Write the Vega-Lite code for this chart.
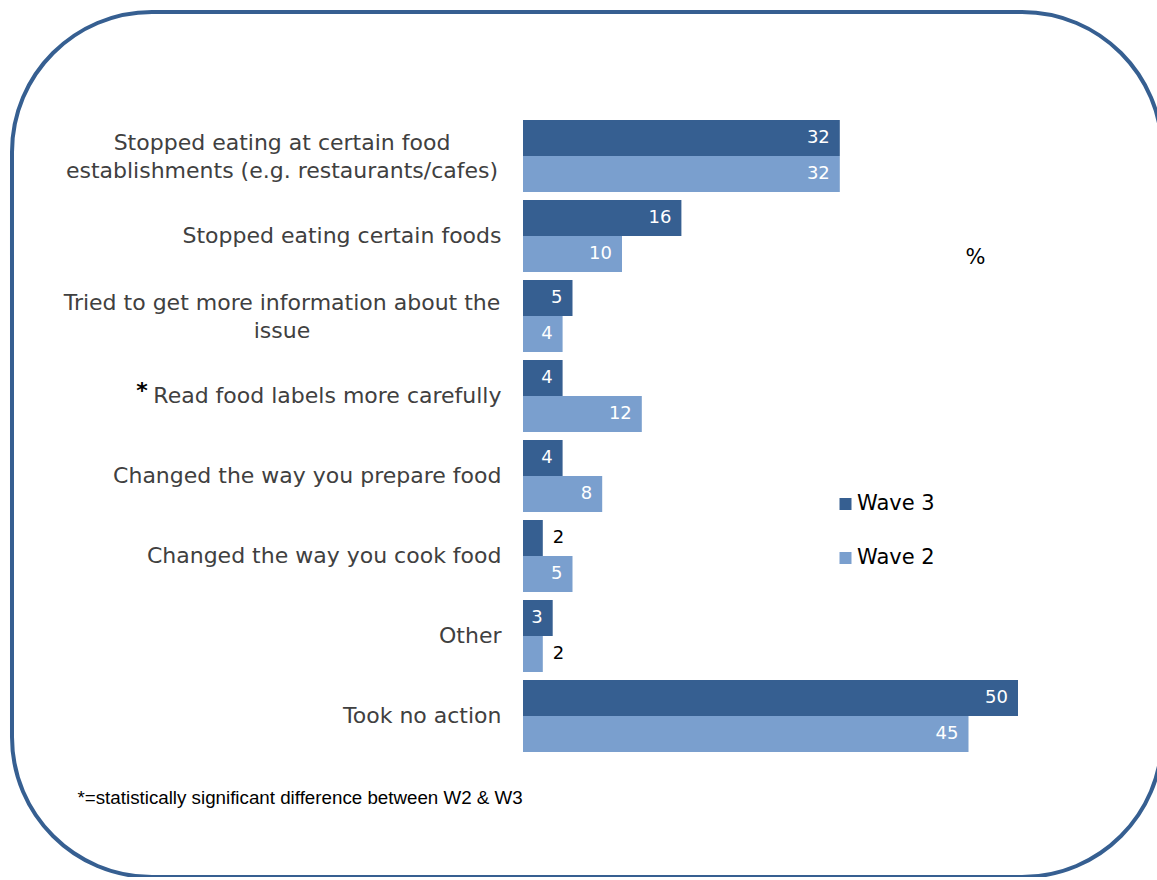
{
  "$schema": "https://vega.github.io/schema/vega-lite/v6.json",
  "width": 1150,
  "height": 865,
  "autosize": {"type": "none"},
  "padding": {"left": 12, "top": 12, "right": 0, "bottom": 0},
  "background": "white",
  "config": {
    "view": {"stroke": "#365F91", "strokeWidth": 4, "cornerRadius": 140},
    "font": "DejaVu Sans"
  },
  "datasets": {
    "bars": [
      {"category": "Stopped eating at certain food|establishments (e.g. restaurants/cafes)", "wave": "Wave 3", "value": 32},
      {"category": "Stopped eating at certain food|establishments (e.g. restaurants/cafes)", "wave": "Wave 2", "value": 32},
      {"category": "Stopped eating certain foods", "wave": "Wave 3", "value": 16},
      {"category": "Stopped eating certain foods", "wave": "Wave 2", "value": 10},
      {"category": "Tried to get more information about the|issue", "wave": "Wave 3", "value": 5},
      {"category": "Tried to get more information about the|issue", "wave": "Wave 2", "value": 4},
      {"category": "Read food labels more carefully", "wave": "Wave 3", "value": 4},
      {"category": "Read food labels more carefully", "wave": "Wave 2", "value": 12},
      {"category": "Changed the way you prepare food", "wave": "Wave 3", "value": 4},
      {"category": "Changed the way you prepare food", "wave": "Wave 2", "value": 8},
      {"category": "Changed the way you cook food", "wave": "Wave 3", "value": 2},
      {"category": "Changed the way you cook food", "wave": "Wave 2", "value": 5},
      {"category": "Other", "wave": "Wave 3", "value": 3},
      {"category": "Other", "wave": "Wave 2", "value": 2},
      {"category": "Took no action", "wave": "Wave 3", "value": 50},
      {"category": "Took no action", "wave": "Wave 2", "value": 45}
    ],
    "notes": [
      {"category": "Read food labels more carefully", "note": "*"}
    ]
  },
  "layer": [
    {
      "data": {"name": "bars"},
      "mark": {"type": "bar"},
      "encoding": {
        "y": {
          "field": "category", "type": "nominal", "sort": null,
          "scale": {"type": "band", "range": [108, 740], "paddingInner": 0.1, "paddingOuter": 0},
          "axis": {
            "orient": "left", "offset": -511, "domain": false, "ticks": false, "tickSize": 0, "grid": false,
            "labelExpr": "split(datum.label, '|')",
            "labelFont": "DejaVu Sans", "labelFontSize": 22, "labelColor": "#404040",
            "labelLimit": 700, "labelOverlap": false, "labelLineHeight": 28, "labelBaseline": "middle",
            "labelAlign": {"condition": {"test": "indexof(datum.value, '|') >= 0", "value": "center"}, "value": "right"},
            "labelPadding": {"condition": {"test": "indexof(datum.value, '|') >= 0", "value": 241.5}, "value": 22},
            "labelOffset": {"condition": {"test": "indexof(datum.value, '|') >= 0", "value": -13}, "value": 0},
            "title": "*=statistically significant difference between W2 & W3",
            "titleAngle": 0, "titleX": -446, "titleY": 785, "titleAlign": "left", "titleBaseline": "middle",
            "titleFont": "Liberation Sans", "titleFontSize": 18.75, "titleFontWeight": "normal", "titleColor": "#000000"
          }
        },
        "yOffset": {"field": "wave", "type": "nominal", "sort": ["Wave 3", "Wave 2"], "scale": {"type": "band", "paddingInner": 0, "paddingOuter": 0}},
        "x": {
          "field": "value", "type": "quantitative",
          "scale": {"domain": [-51.616, 64.545], "nice": false, "zero": false},
          "axis": {
            "orient": "top", "labels": false, "ticks": false, "domain": false, "grid": false,
            "title": "%", "titleX": 963, "titleY": 245, "titleAngle": 0, "titleAlign": "center", "titleBaseline": "middle",
            "titleFont": "DejaVu Sans", "titleFontSize": 21, "titleFontWeight": "normal", "titleColor": "#000000"
          }
        },
        "x2": {"datum": 0},
        "color": {
          "field": "wave", "type": "nominal",
          "scale": {"domain": ["Wave 3", "Wave 2"], "range": ["#365F91", "#7A9FCE"]},
          "legend": {
            "orient": "none", "legendX": 823, "legendY": 481.5, "title": null, "direction": "vertical",
            "symbolType": "square", "symbolSize": 144, "symbolStrokeWidth": 0, "symbolOpacity": 1,
            "labelFont": "DejaVu Sans", "labelFontSize": 21, "labelColor": "#000000", "labelOffset": 1,
            "rowPadding": 32, "padding": 0
          }
        }
      }
    },
    {
      "data": {"name": "bars"},
      "transform": [{"filter": "datum.value > 2"}],
      "mark": {"type": "text", "align": "right", "baseline": "middle", "dx": -10, "font": "DejaVu Sans", "fontSize": 18, "color": "#FFFFFF"},
      "encoding": {
        "y": {"field": "category", "type": "nominal", "sort": null},
        "yOffset": {"field": "wave", "type": "nominal", "sort": ["Wave 3", "Wave 2"]},
        "x": {"field": "value", "type": "quantitative"},
        "text": {"field": "value", "type": "quantitative"}
      }
    },
    {
      "data": {"name": "bars"},
      "transform": [{"filter": "datum.value <= 2"}],
      "mark": {"type": "text", "align": "left", "baseline": "middle", "dx": 10, "font": "DejaVu Sans", "fontSize": 18, "color": "#000000"},
      "encoding": {
        "y": {"field": "category", "type": "nominal", "sort": null},
        "yOffset": {"field": "wave", "type": "nominal", "sort": ["Wave 3", "Wave 2"]},
        "x": {"field": "value", "type": "quantitative"},
        "text": {"field": "value", "type": "quantitative"}
      }
    },
    {
      "data": {"name": "notes"},
      "mark": {"type": "text", "align": "right", "baseline": "middle", "dy": -5, "font": "DejaVu Sans", "fontSize": 22, "fontWeight": "bold", "color": "#000000"},
      "encoding": {
        "y": {"field": "category", "type": "nominal", "sort": null},
        "x": {"datum": -37.9, "type": "quantitative"},
        "text": {"field": "note"}
      }
    }
  ]
}
